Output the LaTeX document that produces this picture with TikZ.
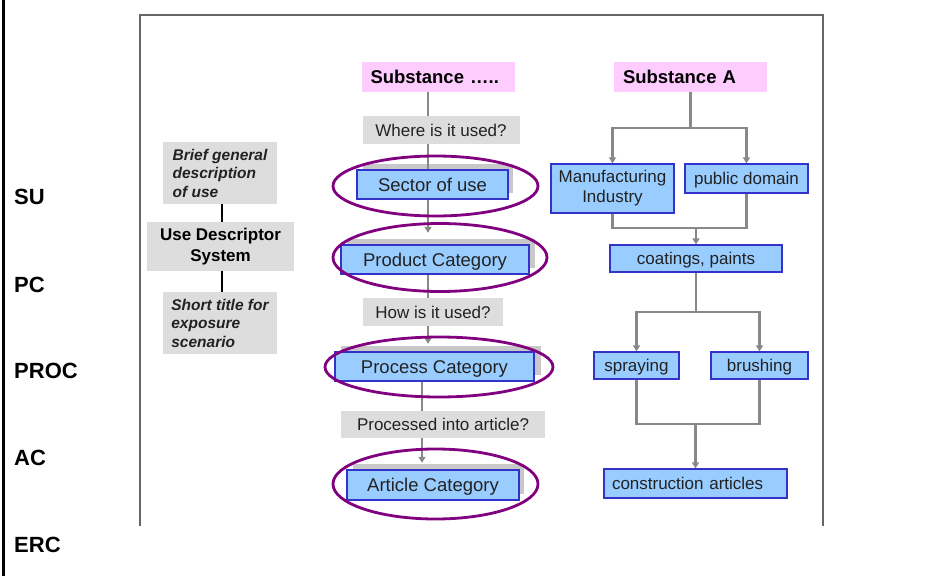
\documentclass[tikz,border=0pt]{standalone}
\usepackage{fontspec}
\setmainfont{Liberation Sans}
\usetikzlibrary{shapes.geometric,arrows.meta,calc}
\definecolor{boxblue}{HTML}{99CCFF}
\definecolor{boxborder}{HTML}{3333CC}
\definecolor{pinkbox}{HTML}{FFCCFF}
\definecolor{greybox}{HTML}{DDDDDD}
\definecolor{shadowgrey}{HTML}{C8C8C8}
\definecolor{linegrey}{HTML}{888888}
\definecolor{framegrey}{HTML}{666666}
\definecolor{ellpurple}{HTML}{800080}
\definecolor{txt}{HTML}{222222}
\pgfdeclarelayer{shadowlayer}
\pgfdeclarelayer{linelayer}
\pgfsetlayers{shadowlayer,linelayer,main}
\begin{document}
\begin{tikzpicture}[x=1pt,y=-1pt,
  bluebase/.style={draw=boxborder, line width=1.2pt, fill=boxblue, inner sep=0pt,
    font=\fontsize{17}{20}\selectfont, text=txt, align=center},
  bluebox/.style={bluebase, text height=12.2pt, text depth=0pt},
  catbox/.style={bluebase, font=\fontsize{18.5}{22}\selectfont, text height=13.2pt, text depth=0pt},
  shadowbox/.style={fill=shadowgrey, inner sep=0pt},
  qbox/.style={fill=greybox, inner sep=0pt, font=\fontsize{17}{20}\selectfont, text=txt,
    text height=12.2pt, text depth=0pt},
  subbox/.style={fill=pinkbox, inner ysep=0pt, inner xsep=9pt, text width=135pt, align=left,
    minimum height=30pt, font=\bfseries\fontsize{18.5}{22}\selectfont, text=black,
    text height=13.2pt, text depth=0pt},
  descbox/.style={fill=greybox, inner sep=0pt, align=left, text=txt,
    font=\bfseries\itshape\fontsize{15.5}{18.5}\selectfont},
  udsbox/.style={fill=greybox, inner sep=0pt, align=center, text=black,
    font=\bfseries\fontsize{17}{21}\selectfont},
  lab/.style={inner sep=0pt, anchor=west, font=\bfseries\fontsize{22}{26}\selectfont},
  ell/.style={draw=ellpurple, line width=2.8pt, ellipse, inner sep=0pt},
  conn/.style={draw=linegrey, line width=2.5pt},
  arr/.style={-{Triangle[length=6pt,width=7pt]}},
  blk/.style={draw=black, line width=2pt}
]
\useasboundingbox (0,0) rectangle (951,576);
% frame
\draw[black, line width=3pt] (3,0) -- (3,576);
\draw[framegrey, line width=2pt] (140,526) -- (140,15) -- (823,15) -- (823,526);

% left labels
\node[lab] (su) at (14,197) {SU};
\node[lab] (pc) at (14,285) {PC};
\node[lab] (proc) at (14,371) {PROC};
\node[lab] (ac) at (14,458) {AC};
\node[lab] (erc) at (14,545) {ERC};

% left descriptor panel
\node[descbox, minimum width=114pt, minimum height=62pt] (brief) at (220,173) {Brief general\\description\\of use};
\node[udsbox, minimum width=147pt, minimum height=49pt] (uds) at (220.5,246.5) {Use Descriptor\\System};
\node[descbox, minimum width=114pt, minimum height=62pt] (short) at (220,323) {Short title for\\exposure\\scenario};
\coordinate (colL) at (222,0);
\draw[blk] (brief.south -| colL) -- (uds.north -| colL);
\draw[blk] (uds.south -| colL) -- (short.north -| colL);

% central column
\node[subbox] (sub1) at (438,77) {Substance …..};
\node[qbox, minimum width=157pt, minimum height=28pt] (where) at (441,130) {Where is it used?};
\begin{pgfonlayer}{shadowlayer}
\node[shadowbox, minimum width=150pt, minimum height=29pt] (ssh) at (438,178.5) {};
\node[shadowbox, minimum width=188pt, minimum height=29pt] (psh) at (441,253.5) {};
\node[shadowbox, minimum width=200pt, minimum height=29pt] (prsh) at (441,360.5) {};
\node[shadowbox, minimum width=171pt, minimum height=30pt] (ash) at (438.5,479) {};
\end{pgfonlayer}
\node[catbox, minimum width=151pt, minimum height=29pt] (sector) at (432.5,184.5) {Sector of use};
\node[catbox, minimum width=188pt, minimum height=29pt] (product) at (435,259.5) {Product Category};
\node[qbox, minimum width=140pt, minimum height=28pt] (how) at (433,312) {How is it used?};
\node[catbox, minimum width=199pt, minimum height=29pt] (process) at (434.5,366.5) {Process Category};
\node[qbox, minimum width=204pt, minimum height=27pt] (processed) at (443,424.5) {Processed into article?};
\node[catbox, minimum width=172pt, minimum height=30pt] (article) at (433,485) {Article Category};

\coordinate (colA) at (428,0);
\coordinate (colB) at (422,0);
\begin{pgfonlayer}{linelayer}
\draw[conn] (sub1.south -| colA) -- (where.north -| colA);
\draw[conn] (where.south -| colA) -- (sector.north -| colA);
\draw[conn, arr, shorten >=6pt] (sector.south -| colA) -- (psh.north -| colA);
\draw[conn] (product.south -| colA) -- (how.north -| colA);
\draw[conn, arr, shorten >=2pt] (how.south -| colA) -- (prsh.north -| colA);
\draw[conn] (process.south -| colB) -- (processed.north -| colB);
\draw[conn, arr, shorten >=1pt] (processed.south -| colB) -- (ash.north -| colB);
\end{pgfonlayer}

% ellipses
\node[ell, minimum width=205pt, minimum height=60pt] (e1) at (435.5,186) {};
\node[ell, minimum width=214pt, minimum height=68pt] (e2) at (440,257.5) {};
\node[ell, minimum width=228pt, minimum height=60pt] (e3) at (439,367) {};
\node[ell, minimum width=205pt, minimum height=70pt] (e4) at (435.5,484) {};

% right column
\node[subbox] (subA) at (690.5,77) {Substance A};
\node[bluebase, minimum width=123pt, minimum height=49pt] (manu) at (612.5,188.5) {Manufacturing\\Industry};
\node[bluebox, minimum width=123pt, minimum height=29pt] (pub) at (746.5,178.5) {public domain};
\node[bluebox, minimum width=172pt, minimum height=27pt] (coat) at (696,258.5) {coatings, paints};
\node[bluebox, minimum width=85pt, minimum height=27pt] (spray) at (636.5,365.5) {spraying};
\node[bluebox, minimum width=97pt, minimum height=27pt] (brush) at (759.5,365.5) {brushing};
\node[bluebox, inner xsep=8pt, text width=167pt, align=left, minimum height=29pt] (constr) at (695.5,483.5) {construction articles};

\coordinate (j1) at ($(subA.south)+(0,36)$);
\coordinate (j2) at (696,228);
\coordinate (j3) at (696,312);
\coordinate (j4) at (695.5,424);
\begin{pgfonlayer}{linelayer}
\draw[conn] (subA.south) -- (j1);
\draw[conn, arr] (j1) -| (manu.north);
\draw[conn, arr] (j1) -| (pub.north);
\draw[conn] (manu.south) |- (j2) -| (pub.south);
\draw[conn, arr] (j2) -- (coat.north);
\draw[conn] (coat.south) -- (j3);
\draw[conn, arr] (j3) -| (spray.north);
\draw[conn, arr] (j3) -| (brush.north);
\draw[conn] (spray.south) |- (j4) -| (brush.south);
\draw[conn, arr] (j4) -- (constr.north);
\end{pgfonlayer}
\end{tikzpicture}
\end{document}
